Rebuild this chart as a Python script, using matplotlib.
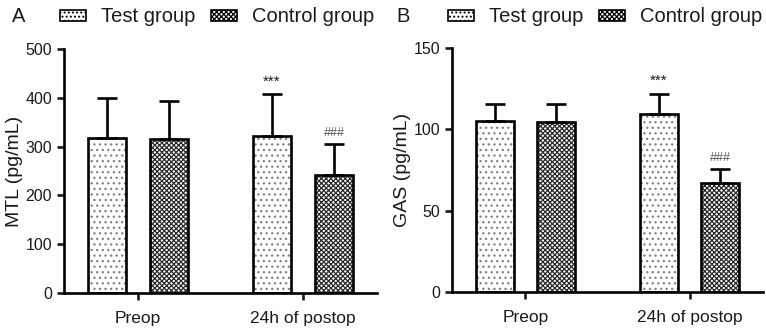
import matplotlib
matplotlib.use("Agg")
import matplotlib.pyplot as plt
import numpy as np
from matplotlib.patches import Patch

plt.rcParams['font.family'] = ['Liberation Sans', 'DejaVu Sans']
plt.rcParams['hatch.linewidth'] = 0.9

categories = ["Preop", "24h of postop"]
groups = ["Test group", "Control group"]
panels = ["A", "B"]
ylabels = ["MTL (pg/mL)", "GAS (pg/mL)"]
ylims = [500, 150]
yticks = [[0, 100, 200, 300, 400, 500], [0, 50, 100, 150]]

mtl_test = [318, 322]
mtl_test_sd = [82, 86]
mtl_ctrl = [316, 242]
mtl_ctrl_sd = [78, 63]

gas_test = [105, 109.5]
gas_test_sd = [10.5, 12.5]
gas_ctrl = [104.5, 67]
gas_ctrl_sd = [11, 8.5]

data = [(mtl_test, mtl_test_sd, mtl_ctrl, mtl_ctrl_sd),
        (gas_test, gas_test_sd, gas_ctrl, gas_ctrl_sd)]
marks_test = ["", "***"]
marks_ctrl = ["", "###"]

W, H = 766, 332
fig = plt.figure(figsize=(W/100, H/100), dpi=100)
axes_px = [(64, 377, 49, 293), (452, 763, 48, 292)]
letter_x = [12, 396]

txt = '#1a1a1a'
for i, (l, r, t, b) in enumerate(axes_px):
    ax = fig.add_axes([l/W, 1-b/H, (r-l)/W, (b-t)/H])
    tv, tsd, cv, csd = data[i]
    x = np.arange(len(categories))
    off, bw = 0.188, 0.232
    ekw = dict(elinewidth=1.9, capsize=7, capthick=1.9, ecolor='black')
    bt = ax.bar(x-off, tv, bw, yerr=[np.zeros(len(tsd)), tsd], color='white',
                edgecolor='black', linewidth=1.9, hatch='...', error_kw=ekw)
    for p in bt.patches:
        p._hatch_color = matplotlib.colors.to_rgba('#808080')
    bc = ax.bar(x+off, cv, bw, yerr=[np.zeros(len(csd)), csd], color='white',
                edgecolor='black', linewidth=1.9, hatch='xxxxxxx', error_kw=ekw)
    for p in bc.patches:
        p._hatch_color = matplotlib.colors.to_rgba('#2a2a2a')
    for j in range(len(categories)):
        if marks_test[j]:
            ax.annotate(marks_test[j], (x[j]-off, tv[j]+tsd[j]), xytext=(0, 4),
                        textcoords='offset points', ha='center', va='bottom',
                        fontsize=11, color=txt)
        if marks_ctrl[j]:
            ax.annotate(marks_ctrl[j], (x[j]+off, cv[j]+csd[j]), xytext=(0, 4),
                        textcoords='offset points', ha='center', va='bottom',
                        fontsize=9, color='#555555')
    ax.set_xlim(-0.448, 1.448)
    ax.set_ylim(0, ylims[i])
    ax.set_yticks(yticks[i])
    ax.set_xticks(x)
    ax.set_xticklabels(categories)
    ax.spines['top'].set_visible(False)
    ax.spines['right'].set_visible(False)
    for s in ['left', 'bottom']:
        ax.spines[s].set_linewidth(1.9)
    ax.tick_params(axis='both', width=1.9, length=5, labelsize=11.5, colors=txt)
    ax.tick_params(axis='x', pad=8, labelsize=12.5)
    ax.set_ylabel(ylabels[i], fontsize=14, color=txt, labelpad=2)
    handles = [Patch(facecolor='white', edgecolor='black', hatch='....', linewidth=1.2),
               Patch(facecolor='white', edgecolor='black', hatch='xxxxxxx', linewidth=1.2)]
    leg = ax.legend(handles, groups, ncol=2, frameon=False, fontsize=14.5,
                    loc='center left', bbox_to_anchor=((l-4)/W, 1-17/H),
                    bbox_transform=fig.transFigure, handlelength=1.3, handleheight=0.5,
                    columnspacing=0.8, handletextpad=0.72, borderaxespad=0, borderpad=0)
    for tx in leg.get_texts():
        tx.set_color(txt)
    fig.text(letter_x[i]/W, 1-17/H, panels[i], fontsize=14.5, color=txt, va='center', ha='left')

fig.savefig("out.png", dpi=100)
